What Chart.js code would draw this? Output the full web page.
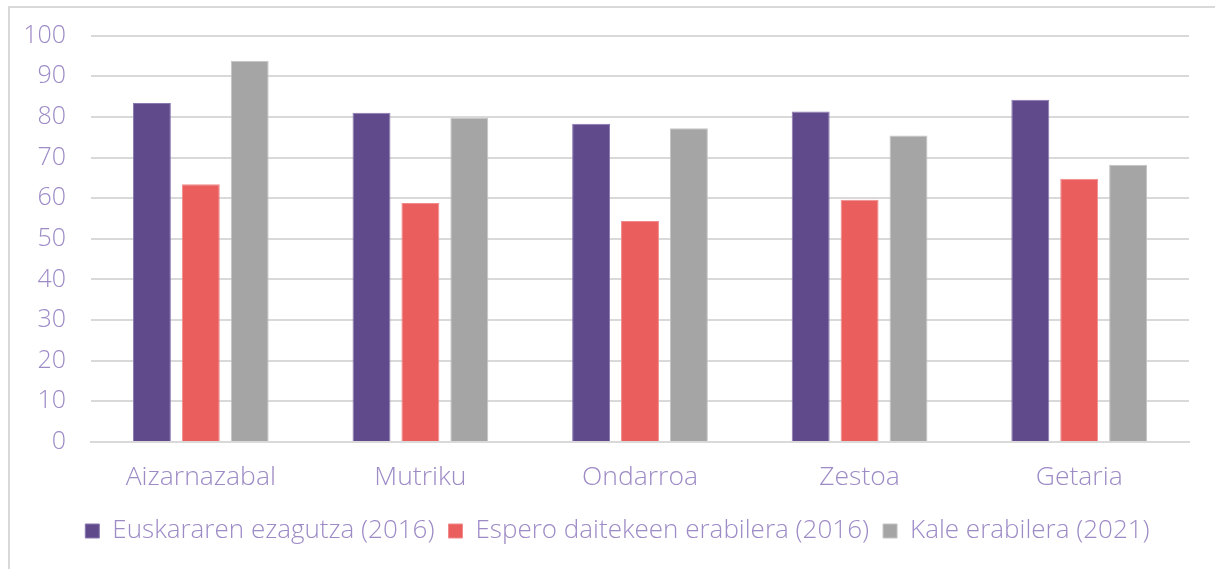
<!DOCTYPE html>
<html>
<head>
<meta charset="utf-8">
<script src="https://cdn.jsdelivr.net/npm/chart.js@4/dist/chart.umd.min.js"></script>
<style>
  html, body { margin: 0; padding: 0; background: #fff; }
  #frame { position: absolute; left: 0; top: 0; width: 1215px; height: 569px; }
  #border { position: absolute; left: 8px; top: 6px; width: 1215px; height: 569px;
            border-left: 2px solid #D9D9D9; border-top: 2px solid #D9D9D9; box-sizing: border-box; }
  canvas { position: absolute; left: 0; top: 0; }
</style>
</head>
<body>
<div id="frame">
  <div id="border"></div>
  <canvas id="c" width="1215" height="569"></canvas>
</div>
<script>
const categories = ["Aizarnazabal", "Mutriku", "Ondarroa", "Zestoa", "Getaria"];
const seriesNames = ["Euskararen ezagutza (2016)", "Espero daitekeen erabilera (2016)", "Kale erabilera (2021)"];
const ezagutza2016 = [83.4, 81.0, 78.3, 81.3, 84.2];
const esperoErabilera2016 = [63.4, 58.8, 54.4, 59.6, 64.8];
const kaleErabilera2021 = [93.8, 79.8, 77.2, 75.4, 68.2];
const yTicks = [0, 10, 20, 30, 40, 50, 60, 70, 80, 90, 100];

const textColor = "#9D8BC6";
const fontFamily = "'Open Sans', 'Noto Sans', sans-serif";

const legendShift = {
  id: "legendShift",
  afterLayout(chart) {
    const lg = chart.legend;
    if (lg) { lg.left += 23; lg.right += 23; }
  }
};

new Chart(document.getElementById("c"), {
  type: "bar",
  data: {
    labels: categories,
    datasets: [
      { label: seriesNames[0], data: ezagutza2016, backgroundColor: "#604A8C", borderColor: "#8A78B0", borderWidth: 1 },
      { label: seriesNames[1], data: esperoErabilera2016, backgroundColor: "#EA5E5E", borderColor: "#F18A8A", borderWidth: 1 },
      { label: seriesNames[2], data: kaleErabilera2021, backgroundColor: "#A5A5A5", borderColor: "#C4C4C4", borderWidth: 1 }
    ]
  },
  plugins: [legendShift],
  options: {
    responsive: false,
    animation: false,
    devicePixelRatio: 1,
    layout: { padding: { left: 0, right: 26, top: 0, bottom: 15 } },
    datasets: { bar: { categoryPercentage: 0.668, barPercentage: 0.776 } },
    plugins: {
      tooltip: { enabled: false },
      legend: {
        position: "bottom",
        labels: {
          color: textColor,
          font: { family: fontFamily, size: 26, weight: 300 },
          boxWidth: 14, boxHeight: 14,
          padding: 14
        }
      }
    },
    scales: {
      x: {
        grid: { display: false, drawTicks: false },
        border: { display: true, color: "#D9D9D9", width: 2 },
        ticks: { color: textColor, font: { family: fontFamily, size: 26.5, weight: 300 }, padding: 20 },
        afterFit: (s) => { s.height = 62; }
      },
      y: {
        min: 0, max: 100,
        afterBuildTicks: (s) => { s.ticks = yTicks.map(v => ({ value: v })); },
        grid: { color: "#D9D9D9", lineWidth: 2, drawTicks: false },
        border: { display: false },
        ticks: { color: textColor, font: { family: fontFamily, size: 25, weight: 300, lineHeight: 0.85 }, padding: 25 },
        afterFit: (s) => { s.width = 91; }
      }
    }
  }
});
</script>
</body>
</html>
